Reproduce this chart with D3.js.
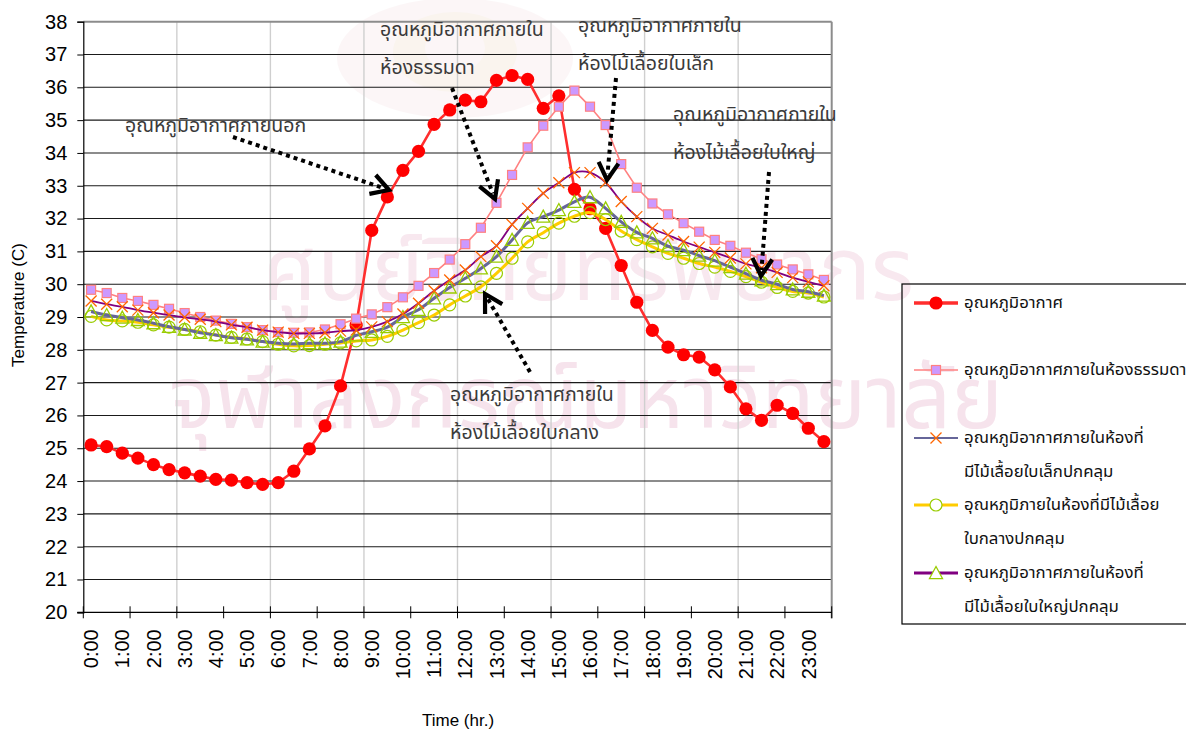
<!DOCTYPE html>
<html>
<head>
<meta charset="utf-8">
<script src="https://cdn.jsdelivr.net/npm/d3@7"></script>
<style>
  body { margin: 0; background: #fff; }
  svg { display: block; }
  .num { font-family: "Liberation Sans", Arial, sans-serif; }
  .thai { font-family: "Noto Sans Thai", "Noto Sans Thai UI", "Loma", "Garuda", "Norasi", "Tlwg Typo", "Waree", "DejaVu Sans", sans-serif; }
</style>
</head>
<body>
<svg id="chart" width="1186" height="733"></svg>
<script>
// Half-hourly readings over one day
const categories = [
  "0:00","0:30","1:00","1:30","2:00","2:30","3:00","3:30","4:00","4:30","5:00","5:30",
  "6:00","6:30","7:00","7:30","8:00","8:30","9:00","9:30","10:00","10:30","11:00","11:30",
  "12:00","12:30","13:00","13:30","14:00","14:30","15:00","15:30","16:00","16:30","17:00","17:30",
  "18:00","18:30","19:00","19:30","20:00","20:30","21:00","21:30","22:00","22:30","23:00","23:30"
];
const tickLabels = categories.filter(c => c.endsWith(":00"));
const yTicks = [20,21,22,23,24,25,26,27,28,29,30,31,32,33,34,35,36,37,38];

// Outdoor air temperature (C)
const outdoor = [25.1, 25.05, 24.85, 24.7, 24.5, 24.35, 24.25, 24.15, 24.05, 24.03, 23.95, 23.9,
  23.95, 24.3, 24.98, 25.68, 26.9, 28.75, 31.64, 32.66, 33.47, 34.05, 34.87, 35.31,
  35.61, 35.56, 36.21, 36.36, 36.24, 35.36, 35.74, 32.89, 32.3, 31.7, 30.57, 29.45,
  28.59, 28.08, 27.85, 27.78, 27.39, 26.87, 26.2, 25.85, 26.31, 26.06, 25.61, 25.2];

// Ordinary room
const normalRoom = [29.83, 29.73, 29.58, 29.49, 29.37, 29.25, 29.12, 29.0, 28.89, 28.79, 28.69, 28.6,
  28.54, 28.52, 28.53, 28.62, 28.78, 28.95, 29.08, 29.3, 29.6, 29.95, 30.34, 30.75,
  31.22, 31.72, 32.48, 33.33, 34.17, 34.83, 35.41, 35.9, 35.41, 34.85, 33.66, 32.94,
  32.46, 32.13, 31.86, 31.6, 31.35, 31.17, 30.96, 30.76, 30.6, 30.45, 30.3, 30.13];

// Room shaded by small-leaf creeper
const smallLeaf = [29.49, 29.39, 29.31, 29.21, 29.13, 29.06, 28.99, 28.93, 28.86, 28.76, 28.69, 28.6,
  28.54, 28.5, 28.5, 28.52, 28.57, 28.6, 28.7, 28.86, 29.09, 29.42, 29.8, 30.13,
  30.43, 30.84, 31.17, 31.82, 32.31, 32.77, 33.09, 33.4, 33.4, 33.1, 32.52, 32.06,
  31.7, 31.5, 31.3, 31.13, 30.97, 30.8, 30.62, 30.5, 30.36, 30.2, 30.07, 29.95];

// Room shaded by medium-leaf creeper
const mediumLeaf = [29.02, 28.91, 28.88, 28.84, 28.76, 28.69, 28.62, 28.55, 28.45, 28.38, 28.33, 28.25,
  28.17, 28.12, 28.13, 28.17, 28.21, 28.27, 28.3, 28.41, 28.6, 28.83, 29.06, 29.37,
  29.64, 29.92, 30.33, 30.79, 31.29, 31.57, 31.86, 32.07, 32.18, 31.97, 31.62, 31.36,
  31.14, 30.94, 30.79, 30.63, 30.52, 30.39, 30.23, 30.06, 29.9, 29.78, 29.73, 29.61];

// Room shaded by large-leaf creeper
const largeLeaf = [29.17, 29.06, 28.98, 28.91, 28.81, 28.7, 28.62, 28.52, 28.45, 28.37, 28.32, 28.25,
  28.2, 28.18, 28.2, 28.2, 28.25, 28.44, 28.55, 28.69, 29.0, 29.22, 29.57, 29.9,
  30.18, 30.48, 30.84, 31.35, 31.87, 32.06, 32.26, 32.51, 32.65, 32.31, 31.9, 31.58,
  31.4, 31.16, 31.04, 30.87, 30.72, 30.52, 30.32, 30.12, 30.0, 29.84, 29.77, 29.65];

const seriesNames = [
  ["อุณหภูมิอากาศ"],
  ["อุณหภูมิอากาศภายในห้องธรรมดา"],
  ["อุณหภูมิอากาศภายในห้องที่", "มีไม้เลื้อยใบเล็กปกคลุม"],
  ["อุณหภูมิภายในห้องที่มีไม้เลื้อย", "ใบกลางปกคลุม"],
  ["อุณหภูมิอากาศภายในห้องที่", "มีไม้เลื้อยใบใหญ่ปกคลุม"]
];

// Drawing styles for each series (line styles as plotted)
const series = [
  { values: outdoor,    line: "#ff2e2e", width: 2.6, smooth: false, marker: "circle",   mFill: "#ff0000", mStroke: "#ff0000", mSize: 6.6, legendLine: "#ff2e2e", legendWidth: 3.5 },
  { values: normalRoom, line: "#ff8080", width: 1.6, smooth: false, marker: "square",   mFill: "#cc99ff", mStroke: "#ff8080", mSize: 9,   legendLine: "#ff8080", legendWidth: 1.6 },
  { values: smallLeaf,  line: "#800080", width: 1.8, smooth: true,  marker: "x",        mFill: "none",    mStroke: "#ff6600", mSize: 11,  legendLine: "#666699", legendWidth: 2.2 },
  { values: mediumLeaf, line: "#ffcc00", width: 3,   smooth: true,  marker: "circleO",  mFill: "none",    mStroke: "#99cc00", mSize: 6,   legendLine: "#ffcc00", legendWidth: 3 },
  { values: largeLeaf,  line: "#666699", width: 3,   smooth: true,  marker: "triangle", mFill: "none",    mStroke: "#99cc00", mSize: 13,  legendLine: "#800080", legendWidth: 3 }
];
// Order the lines are laid down in the plot
const drawOrder = [0, 1, 3, 4, 2];

// Callout captions: text lines, anchor, and dotted arrow from -> to
const callouts = [
  { lines: ["อุณหภูมิอากาศภายนอก"], x: 125, y: 127, from: [233, 137], to: [389, 190] },
  { lines: ["อุณหภูมิอากาศภายใน", "ห้องธรรมดา"], x: 380, y: 31, from: [452, 88], to: [495, 199] },
  { lines: ["อุณหภูมิอากาศภายใน", "ห้องไม้เลื้อยใบเล็ก"], x: 578, y: 27, from: [616, 78], to: [607, 180] },
  { lines: ["อุณหภูมิอากาศภายใน", "ห้องไม้เลื้อยใบใหญ่"], x: 673, y: 116, from: [769, 172], to: [761, 276] },
  { lines: ["อุณหภูมิอากาศภายใน", "ห้องไม้เลื้อยใบกลาง"], x: 450, y: 396, from: [530, 372], to: [485, 294] }
];

const svg = d3.select("#chart");
const plot = { left: 83.3, right: 831.7, top: 21.7, bottom: 612.3 };

const x = d3.scaleBand().domain(categories).range([plot.left, plot.right]).padding(0);
const xc = c => x(c) + x.bandwidth() / 2;
const y = d3.scaleLinear().domain([20, 38]).range([plot.bottom, plot.top]);

// Faint background watermark: emblem and two lines of lettering
const emblem = svg.append("g").attr("opacity", 0.22);
emblem.append("ellipse").attr("cx", 455).attr("cy", 58).attr("rx", 118).attr("ry", 60).attr("fill", "#f3d9dc");
emblem.append("ellipse").attr("cx", 455).attr("cy", 52).attr("rx", 62).attr("ry", 40).attr("fill", "#e9cfb4");
emblem.append("ellipse").attr("cx", 455).attr("cy", 48).attr("rx", 30).attr("ry", 24).attr("fill", "#f3d9dc");
const wm = svg.append("g").attr("class", "thai").attr("text-anchor", "middle");
wm.append("text").attr("x", 588).attr("y", 300).attr("font-size", 88).attr("fill", "#f8e8ef").text("ศูนย์วิทยทรัพยากร");
wm.append("text").attr("x", 586).attr("y", 428).attr("font-size", 87).attr("fill", "#f6e3ec").text("จุฬาลงกรณ์มหาวิทยาลัย");

// Grid
const grid = svg.append("g");
const edges = d3.range(0, categories.length + 1).map(i => plot.left + i * x.bandwidth());
grid.selectAll("line.v").data(edges.filter((e, i) => i % 6 === 0 && i > 0 && i < categories.length))
  .join("line").attr("x1", d => d).attr("x2", d => d).attr("y1", plot.top).attr("y2", plot.bottom)
  .attr("stroke", "#cfcfcf").attr("stroke-width", 1.4);
grid.selectAll("line.h").data(yTicks.filter(t => t > 20 && t < 38))
  .join("line").attr("x1", plot.left).attr("x2", plot.right).attr("y1", d => y(d)).attr("y2", d => y(d))
  .attr("stroke", "#1a1a1a").attr("stroke-width", 1.1);
// plot frame (top and right)
grid.append("line").attr("x1", plot.left).attr("x2", plot.right).attr("y1", plot.top).attr("y2", plot.top)
  .attr("stroke", "#8c8c8c").attr("stroke-width", 2);
grid.append("line").attr("x1", plot.right).attr("x2", plot.right).attr("y1", plot.top).attr("y2", plot.bottom + 6)
  .attr("stroke", "#8c8c8c").attr("stroke-width", 2);

// Y axis
const yAxis = svg.append("g").attr("class", "num").attr("transform", `translate(${plot.left},0)`)
  .call(d3.axisLeft(y).tickValues(yTicks).tickSize(6).tickPadding(10).tickFormat(d3.format("d")));
yAxis.select(".domain").attr("stroke", "#000").attr("stroke-width", 1.2);
yAxis.selectAll(".tick line").attr("stroke", "#000");
yAxis.selectAll("text").attr("font-size", 20).attr("fill", "#000");

// X axis: baseline, tick marks every 3 slots, labels on the hour
const xAxis = svg.append("g").attr("class", "num");
xAxis.append("line").attr("x1", plot.left - 6).attr("x2", plot.right).attr("y1", plot.bottom).attr("y2", plot.bottom)
  .attr("stroke", "#000").attr("stroke-width", 1.2);
xAxis.selectAll("line.t").data(edges.filter((e, i) => i % 3 === 0))
  .join("line").attr("x1", d => d).attr("x2", d => d).attr("y1", plot.bottom - 6).attr("y2", plot.bottom + 6)
  .attr("stroke", "#000").attr("stroke-width", 1);
xAxis.selectAll("text").data(tickLabels).join("text")
  .attr("transform", d => `translate(${xc(d)},${plot.bottom + 17}) rotate(-90)`)
  .attr("text-anchor", "end").attr("dy", "0.36em").attr("font-size", 20).attr("fill", "#000")
  .text(d => d);

// Axis titles
svg.append("text").attr("class", "num").attr("transform", `translate(24,305) rotate(-90)`)
  .attr("text-anchor", "middle").attr("font-size", 17).attr("fill", "#000").text("Temperature (C)");
svg.append("text").attr("class", "num").attr("x", 458).attr("y", 726)
  .attr("text-anchor", "middle").attr("font-size", 17).attr("fill", "#000").text("Time (hr.)");

// Marker drawing helper
function drawMarker(g, type, s) {
  if (type === "circle" || type === "circleO") {
    g.append("circle").attr("r", s.mSize).attr("fill", s.mFill)
      .attr("stroke", s.mStroke).attr("stroke-width", type === "circle" ? 0 : 1.2);
  } else if (type === "square") {
    const h = s.mSize / 2;
    g.append("rect").attr("x", -h).attr("y", -h).attr("width", s.mSize).attr("height", s.mSize)
      .attr("fill", s.mFill).attr("stroke", s.mStroke).attr("stroke-width", 1.2);
  } else if (type === "x") {
    const h = s.mSize / 2;
    g.append("path").attr("d", `M${-h},${-h}L${h},${h}M${-h},${h}L${h},${-h}`)
      .attr("stroke", s.mStroke).attr("stroke-width", 1.3).attr("fill", "none");
  } else if (type === "triangle") {
    const h = s.mSize / 2;
    g.append("path").attr("d", `M0,${-h}L${h},${h * 0.85}L${-h},${h * 0.85}Z`)
      .attr("stroke", s.mStroke).attr("stroke-width", 1.3).attr("fill", s.mFill);
  }
}

// Series lines and markers
const seriesLayer = svg.append("g");
drawOrder.forEach(k => {
  const s = series[k];
  const pts = s.values.map((v, i) => [xc(categories[i]), y(v)]);
  const gen = d3.line().curve(s.smooth ? d3.curveCardinal.tension(0) : d3.curveLinear);
  const g = seriesLayer.append("g");
  g.append("path").attr("d", gen(pts)).attr("fill", "none").attr("stroke", s.line)
    .attr("stroke-width", s.width).attr("stroke-linejoin", "round");
  pts.forEach(p => drawMarker(g.append("g").attr("transform", `translate(${p[0]},${p[1]})`), s.marker, s));
});

// Callouts with dotted arrows
const ann = svg.append("g");
callouts.forEach(c => {
  const t = ann.append("text").attr("class", "thai").attr("x", c.x).attr("y", c.y)
    .attr("font-size", 19.5).attr("fill", "#3a3a3a").attr("dominant-baseline", "middle");
  c.lines.forEach((ln, i) => t.append("tspan").attr("x", c.x).attr("dy", i === 0 ? 0 : 38).text(ln));
  const [x1, y1] = c.from, [x2, y2] = c.to;
  const ang = Math.atan2(y2 - y1, x2 - x1);
  const back = 6;
  ann.append("line").attr("x1", x1).attr("y1", y1)
    .attr("x2", x2 - back * Math.cos(ang)).attr("y2", y2 - back * Math.sin(ang))
    .attr("stroke", "#000").attr("stroke-width", 4).attr("stroke-dasharray", "4 4");
  const L = 20, spread = 0.52;
  const a1 = [x2 - L * Math.cos(ang - spread), y2 - L * Math.sin(ang - spread)];
  const a2 = [x2 - L * Math.cos(ang + spread), y2 - L * Math.sin(ang + spread)];
  ann.append("path").attr("d", `M${a1}L${x2},${y2}L${a2}`).attr("fill", "none")
    .attr("stroke", "#000").attr("stroke-width", 4.2).attr("stroke-linejoin", "miter");
});

// Legend (transparent box, running past the right edge)
const legend = svg.append("g");
legend.append("rect").attr("x", 902).attr("y", 284).attr("width", 320).attr("height", 340)
  .attr("fill", "none").attr("stroke", "#000").attr("stroke-width", 1.2);
const legendRows = [303, 370, 438, 505, 573];
series.forEach((s, k) => {
  const ly = legendRows[k];
  const g = legend.append("g");
  g.append("line").attr("x1", 914).attr("x2", 958).attr("y1", ly).attr("y2", ly)
    .attr("stroke", s.legendLine).attr("stroke-width", s.legendWidth);
  const ms = Object.assign({}, s, { mFill: s.marker === "circleO" || s.marker === "triangle" ? "#fff" : s.mFill });
  drawMarker(g.append("g").attr("transform", `translate(936,${ly})`), s.marker, ms);
  const t = g.append("text").attr("class", "thai").attr("x", 964).attr("y", ly)
    .attr("font-size", 16.8).attr("fill", "#111").attr("dominant-baseline", "middle");
  seriesNames[k].forEach((ln, i) => t.append("tspan").attr("x", 964).attr("dy", i === 0 ? 0 : 34).text(ln));
});
</script>
</body>
</html>
